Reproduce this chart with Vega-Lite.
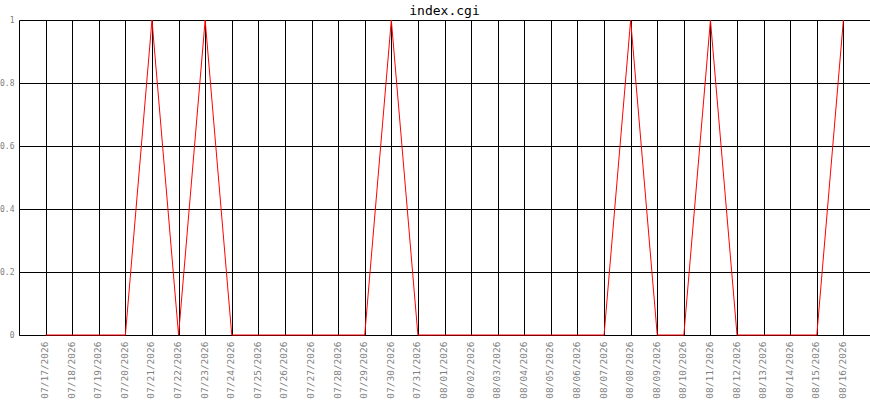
{
  "$schema": "https://vega.github.io/schema/vega-lite/v6.json",
  "autosize": {"type": "none"},
  "padding": {"left": 19, "top": 20, "right": 0, "bottom": 65},
  "width": 851,
  "height": 315,
  "background": "white",
  "config": {
    "view": {"stroke": null},
    "font": "DejaVu Sans Mono"
  },
  "title": {
    "text": "index.cgi",
    "font": "DejaVu Sans Mono",
    "fontSize": 13,
    "fontWeight": "normal",
    "color": "black",
    "anchor": "middle",
    "offset": -2
  },
  "data": {
    "values": [
      {"date": "07/17/2026", "value": 0},
      {"date": "07/18/2026", "value": 0},
      {"date": "07/19/2026", "value": 0},
      {"date": "07/20/2026", "value": 0},
      {"date": "07/21/2026", "value": 1},
      {"date": "07/22/2026", "value": 0},
      {"date": "07/23/2026", "value": 1},
      {"date": "07/24/2026", "value": 0},
      {"date": "07/25/2026", "value": 0},
      {"date": "07/26/2026", "value": 0},
      {"date": "07/27/2026", "value": 0},
      {"date": "07/28/2026", "value": 0},
      {"date": "07/29/2026", "value": 0},
      {"date": "07/30/2026", "value": 1},
      {"date": "07/31/2026", "value": 0},
      {"date": "08/01/2026", "value": 0},
      {"date": "08/02/2026", "value": 0},
      {"date": "08/03/2026", "value": 0},
      {"date": "08/04/2026", "value": 0},
      {"date": "08/05/2026", "value": 0},
      {"date": "08/06/2026", "value": 0},
      {"date": "08/07/2026", "value": 0},
      {"date": "08/08/2026", "value": 1},
      {"date": "08/09/2026", "value": 0},
      {"date": "08/10/2026", "value": 0},
      {"date": "08/11/2026", "value": 1},
      {"date": "08/12/2026", "value": 0},
      {"date": "08/13/2026", "value": 0},
      {"date": "08/14/2026", "value": 0},
      {"date": "08/15/2026", "value": 0},
      {"date": "08/16/2026", "value": 1}
    ]
  },
  "mark": {"type": "line", "color": "#ff0000", "strokeWidth": 1},
  "encoding": {
    "x": {
      "field": "date",
      "type": "ordinal",
      "sort": null,
      "scale": {"type": "point", "padding": 1},
      "axis": {
        "title": null,
        "grid": true,
        "gridColor": "black",
        "gridOpacity": 1,
        "gridWidth": 1,
        "ticks": false,
        "domainColor": "black",
        "domainWidth": 1,
        "labelAngle": -90,
        "labelColor": "#808080",
        "labelFont": "DejaVu Sans Mono",
        "labelFontSize": 9.5,
        "labelPadding": 6,
        "labelOffset": -1
      }
    },
    "y": {
      "field": "value",
      "type": "quantitative",
      "scale": {"domain": [0, 1], "nice": false, "zero": true},
      "axis": {
        "title": null,
        "values": [0, 0.2, 0.4, 0.6, 0.8, 1],
        "format": "~g",
        "grid": true,
        "gridColor": "black",
        "gridOpacity": 1,
        "gridWidth": 1,
        "ticks": false,
        "domainColor": "black",
        "domainWidth": 1,
        "labelColor": "#808080",
        "labelFont": "DejaVu Sans Mono",
        "labelFontSize": 8,
        "labelPadding": 5
      }
    }
  }
}
